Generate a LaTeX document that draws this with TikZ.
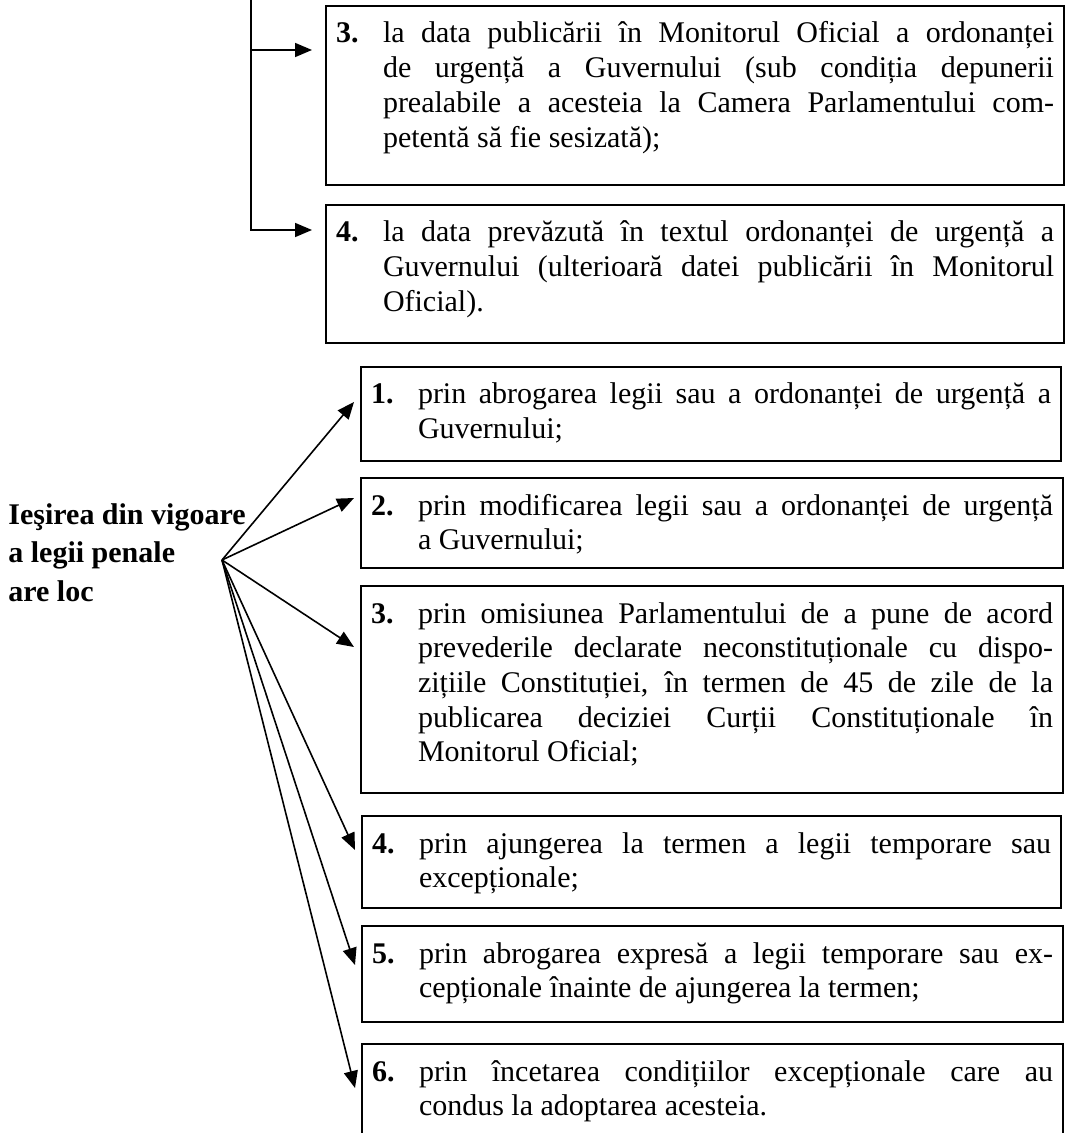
\documentclass[tikz,border=0pt]{standalone}
\usepackage{fontspec}
\setmainfont{Liberation Serif}
\usepackage{tikz}
\usetikzlibrary{arrows.meta}
\tolerance=10000
\hbadness=10000

% numbered text set in a box of fixed size: width, height, number, text
\newcommand{\entrytext}[4]{\parbox[c][#2][t]{#1}{\hangindent=23.5pt\hangafter=1\noindent\rule{0pt}{18.5pt}\makebox[23.5pt][l]{\textbf{#3}}#4}}

\begin{document}
\begin{tikzpicture}[x=0.5pt, y=0.5pt,
    entry/.style={draw, line width=1pt, anchor=north west, inner xsep=5pt, inner ysep=0pt, font=\fontsize{15}{17.35}\selectfont},
    arrow/.style={-{Triangle[length=8.5pt,width=7pt]}, line width=0.8pt}
]
\clip (0,0) rectangle (1068,-1133);

% Upper boxes
\node[entry] (a3) at (325,-5) {\entrytext{359pt}{89.5pt}{3.}{la data publicării în Monitorul Oficial a ordonanței\linebreak de urgență a Guvernului (sub condiția depunerii\linebreak prealabile a acesteia la Camera Parlamentului com-\linebreak petentă să fie sesizată);}};
\node[entry] (a4) at (325,-204) {\entrytext{359pt}{69pt}{4.}{la data prevăzută în textul ordonanței de urgență a\linebreak Guvernului (ulterioară datei publicării în Monitorul\linebreak Oficial).}};

% Label
\node[anchor=north west, align=left, inner sep=0pt, font=\fontsize{15}{19.25}\selectfont\bfseries] (exit) at (8,-503) {Ieşirea din vigoare\\a legii penale\\are loc};
\coordinate (fan) at (222,-560);

% Lower boxes
\node[entry] (b1) at (360,-366) {\entrytext{340pt}{47pt}{1.}{prin abrogarea legii sau a ordonanței de urgență a\linebreak Guvernului;}};
\node[entry] (b2) at (360,-477) {\entrytext{341pt}{45pt}{2.}{prin modificarea legii sau a ordonanței de urgență\linebreak a Guvernului;}};
\node[entry] (b3) at (360,-585) {\entrytext{341pt}{103.5pt}{3.}{prin omisiunea Parlamentului de a pune de acord\linebreak prevederile declarate neconstituționale cu dispo-\linebreak zițiile Constituției, în termen de 45 de zile de la\linebreak publicarea deciziei Curții Constituționale în\linebreak Monitorul Oficial;}};
\node[entry] (b4) at (361,-815) {\entrytext{339.5pt}{46pt}{4.}{prin ajungerea la termen a legii temporare sau\linebreak excepționale;}};
\node[entry] (b5) at (361,-925) {\entrytext{340.5pt}{48pt}{5.}{prin abrogarea expresă a legii temporare sau ex-\linebreak cepționale înainte de ajungerea la termen;}};
\node[entry] (b6) at (361,-1043) {\entrytext{340.5pt}{63.5pt}{6.}{prin încetarea condițiilor excepționale care au\linebreak condus la adoptarea acesteia.}};

% Upper arrows
\coordinate (trunk) at (251,20);
\coordinate (a3in) at ([shift={(-6.5pt,-22.5pt)}]a3.north west);
\coordinate (a4in) at ([shift={(-6.5pt,-13pt)}]a4.north west);
\draw[arrow] (trunk) |- (a4in);
\draw[arrow] (trunk |- a3in) -- (a3in);

% Lower arrows
\foreach \b/\dy in {b1/18, b2/10.5, b3/31, b4/17.5, b5/20, b6/22.5}
  \draw[arrow] (fan) -- ([shift={(-3pt,-\dy pt)}]\b.north west);

\end{tikzpicture}
\end{document}
